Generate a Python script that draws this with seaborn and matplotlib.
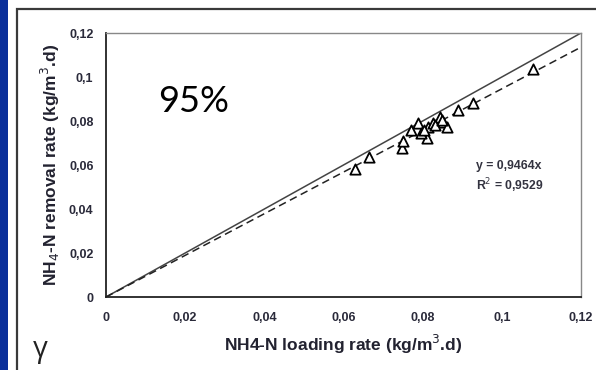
import matplotlib
matplotlib.use("Agg")
import matplotlib.pyplot as plt
from matplotlib.patches import Rectangle
from matplotlib.ticker import FuncFormatter
import numpy as np
import pandas as pd
import seaborn as sns

# Measured NH4-N loading and removal rates (kg/m3.d)
loading_rate = [0.0629, 0.0664, 0.0748, 0.0750, 0.0771, 0.0788, 0.0811, 0.0814,
                0.0826, 0.0844, 0.0851, 0.0862, 0.0889, 0.0927, 0.1079,
                0.0795, 0.0803, 0.0832, 0.0848]
removal_rate = [0.0582, 0.0636, 0.0677, 0.0709, 0.0759, 0.0791, 0.0723, 0.0773,
                0.0791, 0.0818, 0.0795, 0.0773, 0.0850, 0.0882, 0.1036,
                0.0745, 0.0760, 0.0780, 0.0805]

slope = 0.9464
r_squared = 0.9529
line_x = [0.0, 0.12]
ticks = [0, 0.02, 0.04, 0.06, 0.08, 0.1, 0.12]

df = pd.DataFrame({"loading": loading_rate, "removal": removal_rate})
lines = pd.DataFrame({
    "x": line_x * 2,
    "y": [v for v in line_x] + [slope * v for v in line_x],
    "kind": ["1:1"] * 2 + ["fit"] * 2,
})

sns.set_theme(style="white")
plt.rcParams["font.family"] = ["Liberation Sans", "DejaVu Sans"]

fig = plt.figure(figsize=(5.96, 3.70), dpi=100)
fig.patch.set_facecolor("white")

# blue side bar and slide frame
fig.patches.append(Rectangle((0, 0), 8 / 596, 1, transform=fig.transFigure,
                             facecolor="#0a2f9a", edgecolor="none", zorder=0))
fig.patches.append(Rectangle((16.5 / 596, -0.1), 1.2, 1.1 - 8.5 / 370,
                             transform=fig.transFigure, facecolor="none",
                             edgecolor="#3a3a3a", linewidth=1.6, zorder=0))

ax = fig.add_axes([106 / 596, 1 - 297 / 370, (581 - 106) / 596, (297 - 33) / 370])

sns.lineplot(data=lines, x="x", y="y", style="kind", dashes={"1:1": "", "fit": (5, 3)},
             color="#222222", linewidth=1.1, legend=False, ax=ax)
ax.lines[0].set_color("#444444")
sns.scatterplot(data=df, x="loading", y="removal", marker="^", s=55,
                facecolor="white", edgecolor="black", linewidth=1.3, ax=ax, zorder=3)

ax.set_xlim(0, 0.12)
ax.set_ylim(0, 0.12)
ax.set_xticks(ticks)
ax.set_yticks(ticks)
fmt = FuncFormatter(lambda v, p: ("%g" % round(v, 2)).replace(".", ","))
ax.xaxis.set_major_formatter(fmt)
ax.yaxis.set_major_formatter(fmt)
ax.tick_params(axis="both", which="major", direction="out", length=3, width=1,
               labelsize=9, colors="#2a2a3a", pad=6)
ax.tick_params(axis="x", pad=8)
for lbl in ax.get_xticklabels() + ax.get_yticklabels():
    lbl.set_fontweight("bold")
for s in ("left", "bottom"):
    ax.spines[s].set_color("#222222")
    ax.spines[s].set_linewidth(1.3)
for s in ("top", "right"):
    ax.spines[s].set_color("#888888")
    ax.spines[s].set_linewidth(1.0)

ax.set_xlabel("NH4-N loading rate (kg/m$^3$.d)", fontsize=12.5, fontweight="bold",
              color="#222230", labelpad=6)
ax.set_ylabel("NH$_4$-N removal rate (kg/m$^3$.d)", fontsize=12.5, fontweight="bold",
              color="#222230", labelpad=5)

ax.text(0.779, 0.484, "y = %s" % ("%.4fx" % slope).replace(".", ","), transform=ax.transAxes,
        fontsize=8.8, fontweight="bold", color="#333340")
ax.text(0.779, 0.405, "R$^2$ = %s" % ("%.4f" % r_squared).replace(".", ","),
        transform=ax.transAxes, fontsize=8.8, fontweight="bold", color="#333340")

fig.text(158 / 596, 1 - 101 / 370, "95%", fontsize=26, family="Lato", color="black",
         va="center", ha="left")
fig.text(33 / 596, 1 - 349 / 370, "γ", fontsize=21, family="Open Sans", color="#222222",
         va="center", ha="left")

fig.savefig("out.png", dpi=100)
